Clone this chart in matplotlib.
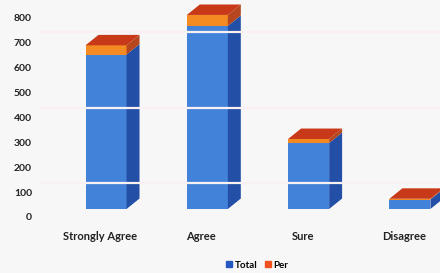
import matplotlib
matplotlib.use("Agg")
import matplotlib.pyplot as plt
from matplotlib.patches import Polygon
from matplotlib.transforms import blended_transform_factory, ScaledTranslation

categories = ["Strongly Agree", "Agree", "Sure", "Disagree"]
total = [620, 735, 265, 38]
per = [37, 44, 16, 3]
yticks = [0, 100, 200, 300, 400, 500, 600, 700, 800]

FONT = ["Lato", "DejaVu Sans"]
blue_front, blue_side = "#4282d8", "#2350a6"
org_front, org_side, org_top = "#f38a22", "#b5461e", "#c8391a"
bg = "#f8f7f7"

fig = plt.figure(figsize=(4.4, 2.73), dpi=100, facecolor=bg)
ax = fig.add_axes([40/440, 0, 400/440, 1])
ax.set_facecolor(bg)
ax.set_xlim(-0.652, 3.297)
ax.set_ylim(-257, 839)
for s in ax.spines.values():
    s.set_visible(False)
ax.set_xticks([]); ax.set_yticks([])

w = 0.405
dx, dy = 0.128, 42
x = list(range(len(categories)))
b1 = ax.bar(x, total, width=w, color=blue_front, zorder=2, label="Total")
b2 = ax.bar(x, per, width=w, bottom=total, color=org_front, zorder=2, label="Per")

for i in x:
    t, p = total[i], per[i]
    r = i + w/2
    l = i - w/2
    ax.add_patch(Polygon([(r, 0), (r+dx, dy), (r+dx, t+dy), (r, t)], closed=True,
                         facecolor=blue_side, edgecolor="none", zorder=2))
    ax.add_patch(Polygon([(r, t), (r+dx, t+dy), (r+dx, t+p+dy), (r, t+p)], closed=True,
                         facecolor=org_side, edgecolor="none", zorder=2))
    top = t + p
    ax.add_patch(Polygon([(l, top), (r, top), (r+dx, top+dy), (l+dx, top+dy)], closed=True,
                         facecolor=org_top, edgecolor="none", zorder=2))

# faint light streaks across the bars as in the photo
for yv in [104, 405, 711]:
    ax.axhline(yv, color="#f9f0f4", lw=1.6, zorder=3)

tr = blended_transform_factory(ax.transAxes, ax.transData) + ScaledTranslation(0, -0.09, fig.dpi_scale_trans)
for v in yticks:
    ax.text(-0.02, v, str(v), transform=tr, ha="right", va="center",
            fontsize=7.5, fontweight="bold", color="#222222", family=FONT)

trx = blended_transform_factory(ax.transData, ax.transAxes)
for i, c in enumerate(categories):
    ax.text(i - 0.06, (273-236)/273, c, transform=trx, ha="center", va="center",
            fontsize=8, fontweight="bold", color="#222222", family=FONT)

leg = fig.legend(handles=[b1, b2], labels=["Total", "Per"], loc="center",
                 bbox_to_anchor=(0.585, 0.028), ncol=2, frameon=False,
                 handlelength=0.55, handleheight=0.55, handletextpad=0.3,
                 columnspacing=0.8, prop={"family": FONT, "weight": "bold", "size": 7})
leg.legend_handles[1].set_color("#f0501e")
leg.legend_handles[0].set_color("#2458c0")

fig.savefig("out.png", dpi=100, facecolor=bg)
